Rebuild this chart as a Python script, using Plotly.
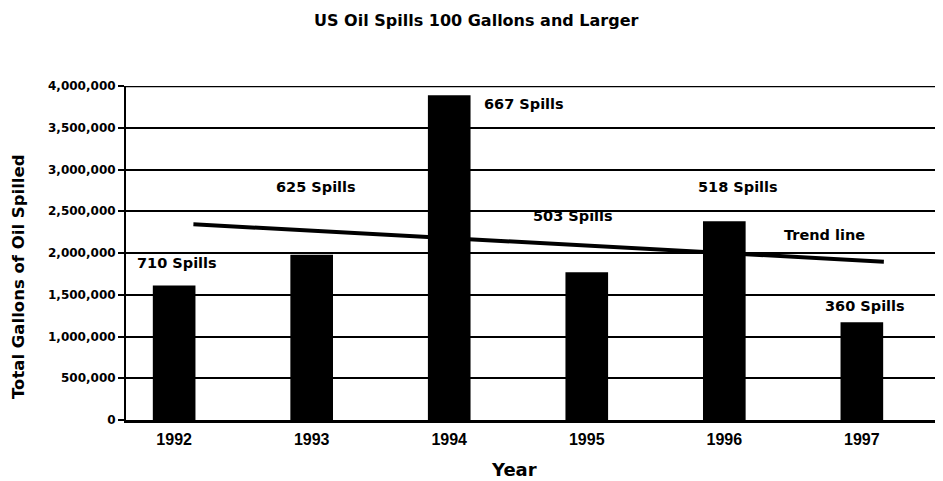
import numpy as np
import plotly.graph_objects as go

# ---- data ----
years = ["1992", "1993", "1994", "1995", "1996", "1997"]
gallons = [1610000, 1980000, 3890000, 1770000, 2380000, 1170000]
spill_labels = ["710 Spills", "625 Spills", "667 Spills", "503 Spills", "518 Spills", "360 Spills"]
y_ticks = [0, 500000, 1000000, 1500000, 2000000, 2500000, 3000000, 3500000, 4000000]

# ---- layout helpers (positions, not data) ----
xpos = list(range(len(years)))
label_anchor = [  # (x offset, y, xanchor) for each spill label
    (0.02, 1880000, "center"),
    (0.03, 2790000, "center"),
    (0.24, 3780000, "left"),
    (-0.10, 2440000, "center"),
    (0.10, 2790000, "center"),
    (0.02, 1370000, "center"),
]

# Linear trend line through the bar values
coef = np.polyfit(xpos, gallons, 1)
trend_x = [0.14, 5.16]
trend_y = [float(np.polyval(coef, t)) for t in trend_x]

FONT = "DejaVu Sans, Liberation Sans, Arial, sans-serif"
FONT_N = "Liberation Sans, Arial, sans-serif"

# page body has an 8px default margin; compensate so the plot sits where the reference has it
PAGE_OFF = 8
W, H = 943, 481 - PAGE_OFF
L, T = 126 - PAGE_OFF, 86 - PAGE_OFF
B = H - (420 - PAGE_OFF)
R = 8

fig = go.Figure()
fig.add_trace(go.Bar(
    x=xpos, y=gallons, width=0.31,
    marker=dict(color="black", line=dict(width=0)),
    showlegend=False, hoverinfo="skip",
))
fig.add_trace(go.Scatter(
    x=trend_x, y=trend_y, mode="lines",
    line=dict(color="black", width=4),
    showlegend=False, hoverinfo="skip",
))

annotations = []
for i, lab in enumerate(spill_labels):
    dx, yy, xa = label_anchor[i]
    annotations.append(dict(
        x=i + dx, y=yy, text=lab, showarrow=False, xanchor=xa, yanchor="middle",
        font=dict(family=FONT, size=14.5, color="black", weight="bold"),
    ))
annotations.append(dict(
    x=4.73, y=2210000, text="Trend line", showarrow=False, xanchor="center",
    font=dict(family=FONT, size=14.5, color="black", weight="bold"),
))
# chart title
annotations.append(dict(
    xref="paper", yref="paper", x=(476 - 126) / 817, y=(420 - 20) / 334,
    text="US Oil Spills 100 Gallons and Larger", showarrow=False,
    xanchor="center", yanchor="middle",
    font=dict(family=FONT, size=16, color="black", weight="bold"),
))
# y axis title
annotations.append(dict(
    xref="paper", yref="paper", x=(18 - 126) / 817, y=(420 - 277) / 334,
    text="Total Gallons of Oil Spilled", showarrow=False, textangle=-90,
    xanchor="center", yanchor="middle",
    font=dict(family=FONT, size=16.5, color="black", weight="bold"),
))
# x axis title
annotations.append(dict(
    xref="paper", yref="paper", x=(514 - 126) / 817, y=(420 - 469) / 334,
    text="Year", showarrow=False, xanchor="center", yanchor="middle",
    font=dict(family=FONT, size=18, color="black", weight="bold"),
))

fig.update_layout(
    width=W, height=H,
    margin=dict(l=L, r=R, t=T, b=B, pad=0, autoexpand=False),
    paper_bgcolor="white", plot_bgcolor="white",
    font=dict(family=FONT, color="black"),
    xaxis=dict(
        range=[-0.35, 5.59], automargin=False,
        tickvals=xpos, ticktext=years,
        tickfont=dict(family=FONT_N, size=16, color="black", weight="bold"),
        showgrid=False, zeroline=False,
        showline=True, linecolor="black", linewidth=3,
        ticks="", ticklabelstandoff=3,
    ),
    yaxis=dict(
        range=[0, 4000000], automargin=False,
        tickvals=y_ticks, tickformat=",",
        tickfont=dict(family=FONT, size=12, color="black", weight="bold"),
        showgrid=True, gridcolor="black", gridwidth=1.5,
        zeroline=False,
        showline=True, linecolor="black", linewidth=2,
        ticks="outside", ticklen=6, tickcolor="black", tickwidth=1.5,
    ),
    annotations=annotations,
    shapes=[dict(type="line", xref="paper", yref="y", x0=0, x1=1, y0=4000000, y1=4000000,
                 line=dict(color="black", width=2.5))],
)

fig.write_html("out.html")
